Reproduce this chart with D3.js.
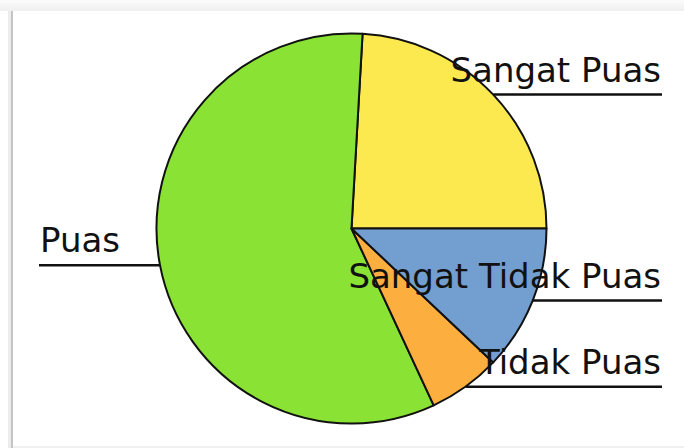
<!DOCTYPE html>
<html>
<head>
<meta charset="utf-8">
<script src="https://cdn.jsdelivr.net/npm/d3@7"></script>
<style>
  html, body { margin: 0; padding: 0; background: #ffffff; }
  svg { display: block; }
</style>
</head>
<body>
<script>
  // survey answers, counterclockwise starting from 3 o'clock
  var labels = ["Sangat Puas", "Puas", "Tidak Puas", "Sangat Tidak Puas"];
  var counts = [20, 48, 5, 10];
  var colors = ["#fce94f", "#8ae234", "#fcaf3e", "#729fcf"];

  var width = 684, height = 448;
  var cx = 351.5, cy = 228.5, radius = 195;
  var lineLeft = 39, lineRight = 662;

  var svg = d3.select("body")
    .append("svg")
      .attr("width", width)
      .attr("height", height);

  // the frame around the screenshot
  var grad = svg.append("defs").append("linearGradient")
      .attr("id", "topband")
      .attr("x1", 0).attr("y1", 0).attr("x2", 0).attr("y2", 1);
  grad.append("stop").attr("offset", "0%").attr("stop-color", "#fbfbfb");
  grad.append("stop").attr("offset", "100%").attr("stop-color", "#efefef");

  svg.append("rect")
      .attr("x", 0).attr("y", 0)
      .attr("width", width).attr("height", 11)
      .attr("fill", "url(#topband)");
  svg.append("rect")
      .attr("x", 8).attr("y", 11)
      .attr("width", 3).attr("height", height - 11)
      .attr("fill", "#ececec");
  svg.append("rect")
      .attr("x", 11).attr("y", 11)
      .attr("width", 2).attr("height", height - 11)
      .attr("fill", "#c4c4c4");
  svg.append("rect")
      .attr("x", 13).attr("y", 446)
      .attr("width", width - 13).attr("height", 2)
      .attr("fill", "#f0f0f0");

  var pie = d3.pie()
      .sort(null)
      .value(function(d) { return d; })
      .startAngle(Math.PI / 2)
      .endAngle(Math.PI / 2 - 2 * Math.PI);

  var arcs = pie(counts);

  var arc = d3.arc()
      .innerRadius(0)
      .outerRadius(radius);

  var g = svg.append("g")
      .attr("transform", "translate(" + cx + "," + cy + ")");

  g.selectAll(".slice")
      .data(arcs)
    .enter().append("path")
      .attr("class", "slice")
      .attr("d", arc)
      .attr("fill", function(d, i) { return colors[i]; })
      .attr("stroke", "#111")
      .attr("stroke-width", 2)
      .attr("stroke-linejoin", "round");

  // leader lines go from the middle of each slice edge out to the side
  var label = svg.selectAll(".label")
      .data(arcs)
    .enter().append("g")
      .attr("class", "label");

  function mid(d) { return (d.startAngle + d.endAngle) / 2; }
  function edgeX(d) { return cx + radius * Math.sin(mid(d)); }
  function edgeY(d) { return cy - radius * Math.cos(mid(d)); }
  function onRight(d) { return Math.sin(mid(d)) > 0; }

  label.append("line")
      .attr("x1", edgeX)
      .attr("y1", edgeY)
      .attr("x2", function(d) { return onRight(d) ? lineRight : lineLeft; })
      .attr("y2", edgeY)
      .attr("stroke", "#111")
      .attr("stroke-width", 2.5);

  label.append("text")
      .attr("x", function(d) { return onRight(d) ? lineRight - 1 : lineLeft + 1; })
      .attr("y", function(d) { return edgeY(d) - 13; })
      .style("text-anchor", function(d) { return onRight(d) ? "end" : "start"; })
      .style("font-family", "'DejaVu Sans', sans-serif")
      .style("font-size", "34px")
      .style("fill", "#111")
      .text(function(d, i) { return labels[i]; });
</script>
</body>
</html>
